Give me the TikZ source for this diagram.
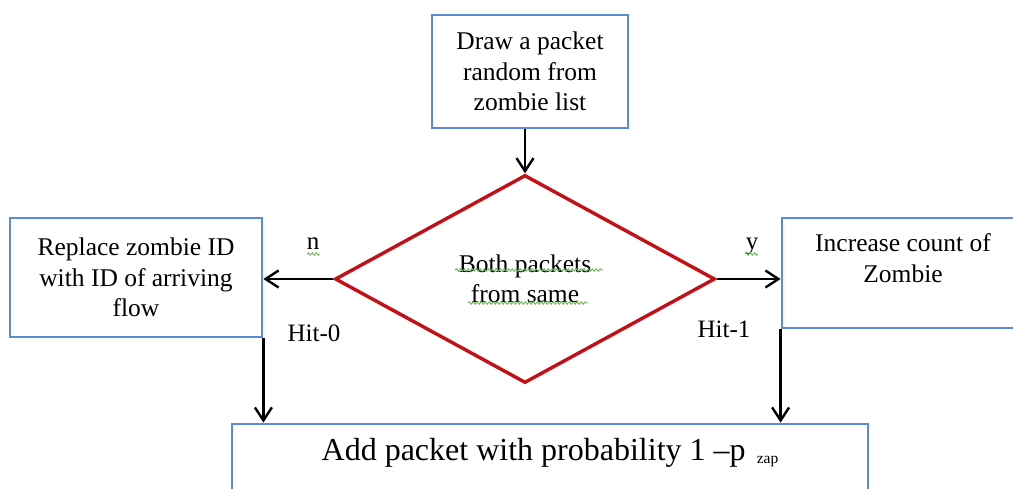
\documentclass[tikz,border=0pt]{standalone}
\usepackage{fontspec}
\setmainfont{Liberation Serif}
\usetikzlibrary{shapes.geometric,arrows.meta,decorations.pathmorphing}
\definecolor{boxblue}{RGB}{88,140,212}
\definecolor{diared}{RGB}{196,16,20}
\definecolor{squig}{RGB}{110,180,90}
\begin{document}
\begin{tikzpicture}[x=1pt,y=-1pt,
  txt/.style={font=\fontsize{25.5}{30.5}\selectfont, align=center, inner sep=0pt},
  stepbox/.style={draw=boxblue, line width=2.8pt, rectangle, inner sep=0pt, txt},
  decision/.style={draw=diared, line width=3.4pt, diamond, inner sep=0pt, txt},
  flow/.style={draw=black, line width=2.6pt, -{Straight Barb[length=13pt,width=17pt,line width=2.4pt]}},
  lbl/.style={font=\fontsize{25}{28}\selectfont, inner sep=0pt, anchor=base},
  squiggle/.style={draw=squig, line width=0.9pt, decorate, decoration={snake, amplitude=1.2pt, segment length=4pt}}
]
\useasboundingbox (0,0) rectangle (1013,488);
\clip (0,0) rectangle (1013,488);

% boxes and decision
\node[stepbox, minimum width=196pt, minimum height=113pt] (draw) at (530,71.5)
  {Draw a packet\\random from\\zombie list};
\node[decision, minimum width=380pt, minimum height=208pt] (same) at (525,279)
  {Both packets\\from same};
\node[stepbox, minimum width=252pt, minimum height=119pt] (replace) at (136,277.5)
  {Replace zombie ID\\with ID of arriving\\flow};
\node[stepbox, minimum width=260pt, minimum height=110pt] (incr) at (912,273) {};
\node[txt, anchor=base] (incrtext) at (903,282) {Increase count of\\Zombie};
\node[stepbox, minimum width=636pt, minimum height=90pt] (add) at (550,469) {};
\node[inner sep=0pt, anchor=base, font=\fontsize{32}{36}\selectfont] (addtext) at (550,460)
  {Add packet with probability 1 –p\hspace{0.35em}\raisebox{-3pt}{\fontsize{15.5}{16}\selectfont zap}};

% connectors
\draw[flow] (same.north |- draw.south) -- (same.north);
\draw[flow] (same.west) -- (replace.east |- same.west);
\draw[flow] (same.east) -- (incr.west |- same.east);
\draw[flow] (replace.south east) -- (replace.south east |- add.north);
\draw[flow] (incr.south west) -- (incr.south west |- add.north);

% branch labels
\node[lbl] (nlbl) at (313,249) {n};
\node[lbl] (ylbl) at (752,249) {y};
\node[lbl] (hit0) at (314,341) {Hit-0};
\node[lbl] (hit1) at (724,337) {Hit-1};

% spelling marks under words
\draw[squiggle] (455,270) -- (603,270);
\draw[squiggle] (468,303) -- (588,303);
\draw[squiggle] (307,254) -- (320,254);
\draw[squiggle] (745,254) -- (758,254);
\end{tikzpicture}
\end{document}
